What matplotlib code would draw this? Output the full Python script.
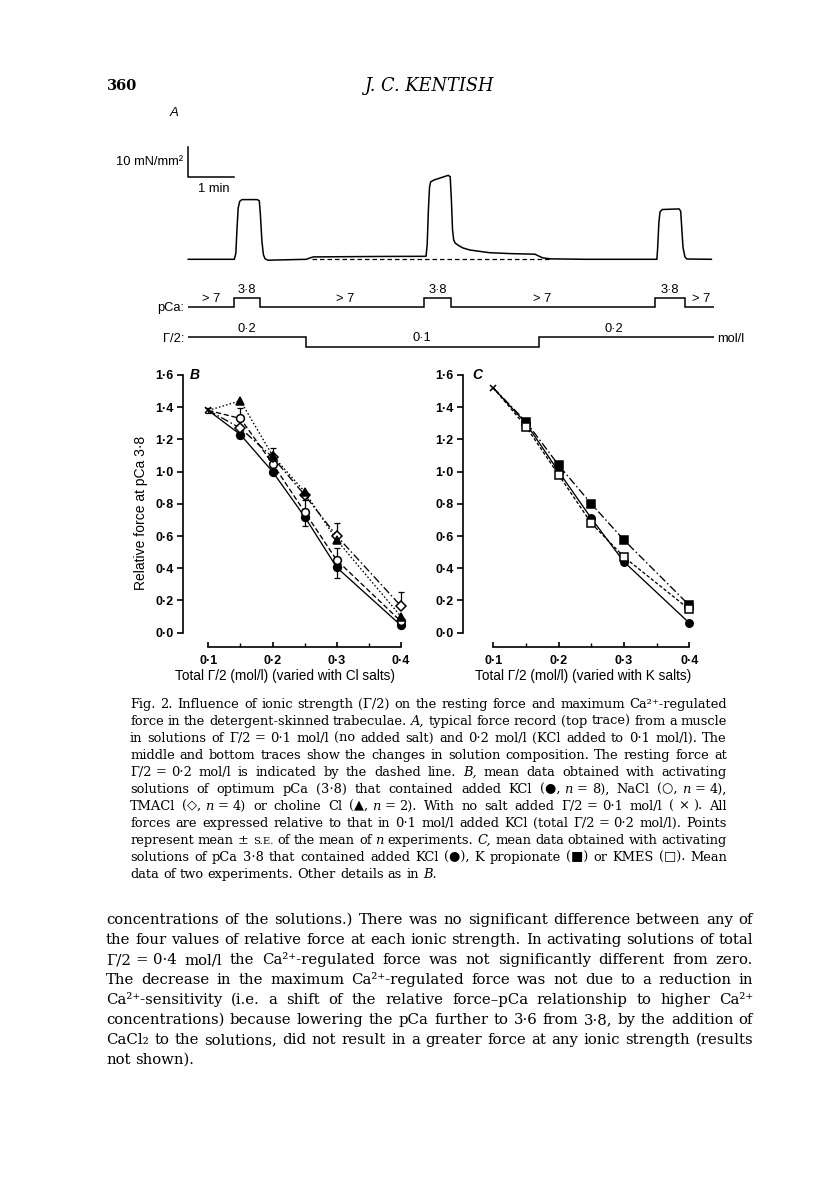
import matplotlib
matplotlib.use('Agg')
import statistics
import matplotlib.pyplot as plt
from matplotlib.transforms import IdentityTransform
from matplotlib.ticker import FixedLocator, FixedFormatter

W, H, DPI = 816, 1181, 100

# ---------------- data ----------------
# Panel A: force record (time in s, force in mN/mm2)
trace_t = [0, 60, 62, 63.5, 65, 67, 70, 90, 92.6, 94, 96, 98, 100, 104, 120, 154, 158, 163,
           250, 310, 311.5, 313, 314.5, 316, 320, 339, 341.5, 343, 344.5, 346, 348, 353, 358,
           367, 393, 420, 452, 456, 462, 472, 520, 611, 612, 613.5, 615, 618, 640, 642,
           643.5, 645, 647.5, 650, 682]
trace_f = [0, 0, 2, 10, 17, 19.3, 19.9, 19.9, 19.5, 15, 6, 1.5, 0.2, -0.3, -0.2, 0, 0.4, 0.8,
           0.95, 1.0, 5, 16, 24, 25.8, 26.4, 28.0, 27.5, 20, 10, 6.5, 5.4, 4.5, 3.8,
           3.1, 2.2, 1.9, 1.7, 1.2, 0.5, 0.15, 0.0, 0, 4, 12, 15.8, 16.6, 16.8, 16,
           10, 4, 0.8, 0.1, 0]
rest_t = [161, 472]
rest_f = [0, 0]
scale_force = 10      # mN/mm2
scale_time = 60       # s
pca_edges = [0, 60, 93.5, 307, 342.5, 608, 647, 685]
pca_vals = [7, 3.8, 7, 3.8, 7, 3.8, 7]
pca_labels = ["> 7", "3·8", "> 7", "3·8", "> 7", "3·8", "> 7"]
pca_label_t = [30, 76.5, 204, 325, 461, 627.5, 668]
ion_edges = [0, 153.5, 457, 685]
ion_vals = [0.2, 0.1, 0.2]
ion_labels = ["0·2", "0·1", "0·2"]
ion_label_t = [76.5, 304, 555]

# Panel B (Cl salts) and C (K salts)
gamma = [0.15, 0.2, 0.25, 0.3, 0.4]
B_nosalt, B_nosalt_err = 1.38, 0.015
B_KCl = [1.23, 1.00, 0.72, 0.405, 0.045]
B_KCl_lo = [0.02, 0, 0.02, 0.065, 0]
B_NaCl = [1.33, 1.05, 0.75, 0.45, 0.07]
B_NaCl_up = [0.065, 0, 0.075, 0.075, 0]
B_NaCl_lo = [0, 0, 0.09, 0, 0]
B_TMA = [1.27, 1.09, 0.855, 0.60, 0.165]
B_TMA_up = [0, 0.055, 0, 0.08, 0.09]
B_Cho = [1.44, 1.10, 0.875, 0.575, 0.10]

C_nosalt = 1.52
C_KCl = [1.30, 1.00, 0.71, 0.44, 0.06]
C_Kprop = [1.31, 1.04, 0.80, 0.575, 0.17]
C_KMES = [1.28, 0.98, 0.68, 0.47, 0.145]

y_ticks = [0.0, 0.2, 0.4, 0.6, 0.8, 1.0, 1.2, 1.4, 1.6]
y_ticklabels = ["0·0", "0·2", "0·4", "0·6", "0·8", "1·0", "1·2", "1·4", "1·6"]
x_ticks = [0.1, 0.2, 0.3, 0.4]
x_ticklabels = ["0·1", "0·2", "0·3", "0·4"]
x_minor = [0.15, 0.25, 0.35]

caption = [
    "Fig. 2. Influence of ionic strength (Γ/2) on the resting force and maximum Ca²⁺-regulated",
    "force in the detergent-skinned trabeculae. *A, typical force record (top trace) from a muscle",
    "in solutions of Γ/2~=~0·1 mol/l (no added salt) and 0·2 mol/l (KCl added to 0·1 mol/l). The",
    "middle and bottom traces show the changes in solution composition. The resting force at",
    "Γ/2~=~0·2 mol/l is indicated by the dashed line. *B, mean data obtained with activating",
    "solutions of optimum pCa (3·8) that contained added KCl (●,~*n~=~8), NaCl (○,~*n~=~4),",
    "TMACl (◇,~*n~=~4) or choline Cl (▲,~*n~=~2). With no salt added Γ/2~=~0·1 mol/l (~×~). All",
    "forces are expressed relative to that in 0·1 mol/l added KCl (total Γ/2~=~0·2 mol/l). Points",
    "represent mean~± ^S.E. of the mean of *n experiments. *C, mean data obtained with activating",
    "solutions of pCa 3·8 that contained added KCl (●), K propionate (■) or KMES (□). Mean",
    "data of two experiments. Other details as in *B.",
]
body = [
    "concentrations of the solutions.) There was no significant difference between any of",
    "the four values of relative force at each ionic strength. In activating solutions of total",
    "Γ/2~=~0·4 mol/l the Ca²⁺-regulated force was not significantly different from zero.",
    "The decrease in the maximum Ca²⁺-regulated force was not due to a reduction in",
    "Ca²⁺-sensitivity (i.e. a shift of the relative force–pCa relationship to higher Ca²⁺",
    "concentrations) because lowering the pCa further to 3·6 from 3·8, by the addition of",
    "CaCl₂ to the solutions, did not result in a greater force at any ionic strength (results",
    "not shown).",
]

# ---------------- figure ----------------
SANS = ['Liberation Sans', 'DejaVu Sans']
SERIF = ['DejaVu Serif', 'DejaVu Sans']
plt.rcParams['font.family'] = SANS

fig = plt.figure(figsize=(W / DPI, H / DPI), dpi=DPI)
fig.patch.set_facecolor('white')
renderer = fig.canvas.get_renderer()


def px_axes(x0, y0, x1, y1):
    return fig.add_axes([x0 / W, 1 - y1 / H, (x1 - x0) / W, (y1 - y0) / H])


def ptext(x, y, s, **kw):
    return fig.text(x, H - y, s, transform=IdentityTransform(), **kw)


def twidth(s, style, size):
    t = ptext(0, 0, s, fontsize=size, style=style, family=SERIF)
    w = t.get_window_extent(renderer).width
    t.remove()
    return w


def parse_word(word, size):
    subs = []
    for sub in word.split('~'):
        segs = []
        for s in sub.split('|'):
            style, sz = 'normal', size
            if s.startswith('*'):
                style, s = 'italic', s[1:]
            elif s.startswith('^'):
                sz, s = size * 0.78, s[1:]
            if s:
                segs.append((s, style, sz))
        subs.append(segs)
    return subs


def measure_line(line, size):
    space = twidth("a a", 'normal', size) - twidth("aa", 'normal', size)
    words = [parse_word(w, size) for w in line.split(' ')]
    widths = []
    for subs in words:
        wsum = 0
        for k, segs in enumerate(subs):
            if k > 0:
                wsum += space
            for s, st, sz in segs:
                wsum += twidth(s, st, sz)
        widths.append(wsum)
    return space, words, widths


def text_line(line, x0, x1, yc, size, justify=True):
    space, words, widths = measure_line(line, size)
    n = len(words)
    gap = (x1 - x0 - sum(widths)) / (n - 1) if (justify and n > 1) else space
    base = yc + 0.27 * size * DPI / 72
    x = x0
    for subs, wd in zip(words, widths):
        xx = x
        for k, segs in enumerate(subs):
            if k > 0:
                xx += space
            for s, st, sz in segs:
                ptext(xx, base, s, fontsize=sz, style=st, family=SERIF, va='baseline', ha='left')
                xx += twidth(s, st, sz)
        x += wd + gap


def fit_size(lines, width, s0=9.0):
    ratios = []
    for line in lines:
        space, words, widths = measure_line(line, s0)
        natural = sum(widths) + space * (len(words) - 1)
        ratios.append(width / natural)
    return s0 * statistics.median(ratios) * 0.985


# ---- header ----
ptext(107, 86, "360", fontsize=10.5, family=SERIF, weight='bold', va='center', ha='left')
ptext(430, 86, "J. C. KENTISH", fontsize=12.8, family=SERIF, style='italic', va='center', ha='center')
ptext(174, 113, "A", fontsize=9.5, style='italic', va='center', ha='center')

# ---- panel A ----
T_LEFT, T_RIGHT = -115.1, 745.4
TXT_A = 9.3
axA = px_axes(100, 140, 760, 275)
axA.set_xlim(T_LEFT, T_RIGHT)
axA.set_ylim(-5.23, 39.77)
axA.axis('off')
axA.plot(trace_t, trace_f, color='k', lw=1.1, solid_joinstyle='round')
axA.plot(rest_t, rest_f, color='k', lw=0.9, dashes=(3.6, 2.4))
sb_bot = 27.4
axA.plot([0, 0, scale_time], [sb_bot + scale_force, sb_bot, sb_bot], color='k', lw=1.1)
axA.text(-7.0, sb_bot + scale_force / 2, "10 mN/mm²", fontsize=TXT_A, ha='right', va='center')
axA.text(scale_time / 2 + 3.5, sb_bot - 4.0, "1 min", fontsize=TXT_A, ha='center', va='center')

axP = px_axes(100, 280, 760, 315)
axP.set_xlim(T_LEFT, T_RIGHT)
axP.set_ylim(9.95, -2.49)
axP.axis('off')
axP.stairs(pca_vals, pca_edges, baseline=None, color='k', lw=1.1)
for s, t, v in zip(pca_labels, pca_label_t, pca_vals):
    axP.annotate(s, (t, v), xytext=(0, 1.5), textcoords='offset points', ha='center',
                 va='bottom', fontsize=TXT_A)
axP.text(-5, 7, "pCa:", fontsize=TXT_A, ha='right', va='center_baseline')

axG = px_axes(100, 318, 760, 355)
axG.set_xlim(T_LEFT, T_RIGHT)
axG.set_ylim(0.0117, 0.405)
axG.axis('off')
axG.stairs(ion_vals, ion_edges, baseline=None, color='k', lw=1.1)
for s, t, v in zip(ion_labels, ion_label_t, ion_vals):
    axG.annotate(s, (t, v), xytext=(0, 1.8), textcoords='offset points', ha='center',
                 va='bottom', fontsize=TXT_A)
axG.text(-5, 0.2, "Γ/2:", fontsize=TXT_A, ha='right', va='center_baseline')
axG.text(689, 0.2, "mol/l", fontsize=TXT_A, ha='left', va='center_baseline')


# ---- panels B and C ----
def style_axes(ax, spine_x, spine_y):
    for s in ('top', 'right'):
        ax.spines[s].set_visible(False)
    ax.spines['left'].set_position(('data', spine_x))
    ax.spines['left'].set_bounds(0, 1.6)
    ax.spines['bottom'].set_position(('data', spine_y))
    ax.spines['bottom'].set_bounds(0.1, 0.4)
    for s in ('left', 'bottom'):
        ax.spines[s].set_linewidth(1.2)
    ax.yaxis.set_major_locator(FixedLocator(y_ticks))
    ax.yaxis.set_major_formatter(FixedFormatter(y_ticklabels))
    ax.xaxis.set_major_locator(FixedLocator(x_ticks))
    ax.xaxis.set_major_formatter(FixedFormatter(x_ticklabels))
    ax.xaxis.set_minor_locator(FixedLocator(x_minor))
    ax.tick_params(axis='y', direction='out', length=4.6, width=1.2, pad=2.0, labelsize=9)
    ax.tick_params(axis='x', which='major', direction='in', length=3.4, width=1.2, pad=6.0,
                   labelsize=9)
    ax.tick_params(axis='x', which='minor', direction='in', length=2.6, width=1.0)
    for lab in ax.get_xticklabels() + ax.get_yticklabels():
        lab.set_fontweight('bold')
    ax.patch.set_alpha(0)


LW = 0.95
MS = 5.6
EKW = dict(fmt='none', ecolor='k', elinewidth=0.9, capsize=2.0, capthick=0.9)
axB = px_axes(150, 365, 415, 660)
axB.set_xlim(0.00923, 0.4218)
axB.set_ylim(-0.1695, 1.662)
style_axes(axB, 0.0601, -0.0888)
x0 = 0.1
series_B = [
    (B_KCl, 'o', 'k', None),
    (B_NaCl, 'o', 'w', (4.0, 2.0)),
    (B_TMA, 'D', 'w', (6.0, 2.0, 1.2, 2.0)),
    (B_Cho, '^', 'k', (1.2, 1.6)),
]
for vals, mk, fc, dash in series_B:
    ln, = axB.plot([x0] + gamma, [B_nosalt] + vals, color='k', lw=LW)
    if dash is not None:
        ln.set_dashes(dash)
axB.errorbar(gamma, B_KCl, yerr=[B_KCl_lo, [0] * 5], **EKW)
axB.errorbar(gamma, B_NaCl, yerr=[B_NaCl_lo, B_NaCl_up], **EKW)
axB.errorbar(gamma, B_TMA, yerr=[[0] * 5, B_TMA_up], **EKW)
axB.errorbar([x0], [B_nosalt], yerr=[[B_nosalt_err], [B_nosalt_err]], **EKW)
for vals, mk, fc, dash in series_B:
    ms = MS * 0.85 if mk == 'D' else (MS * 1.1 if mk == '^' else MS)
    axB.plot(gamma, vals, ls='none', marker=mk, ms=ms, mfc=fc, mec='k', mew=1.1, zorder=4)
axB.plot([x0], [B_nosalt], ls='none', marker='x', ms=3.8, mec='k', mew=1.1, zorder=4)
axB.set_ylabel("Relative force at pCa 3·8", fontsize=10, labelpad=5)
axB.text(0.0793, 1.6, "B", fontsize=10, style='italic', weight='bold', ha='center', va='center')
ptext(285, 676, "Total Γ/2 (mol/l) (varied with Cl salts)", fontsize=9.8, ha='center', va='center')

axC = px_axes(440, 365, 705, 660)
axC.set_xlim(0.0184, 0.424)
axC.set_ylim(-0.1695, 1.662)
style_axes(axC, 0.0532, -0.0888)
series_C = [
    (C_KCl, 'o', 'k', None),
    (C_Kprop, 's', 'k', (6.0, 2.0, 1.2, 2.0)),
    (C_KMES, 's', 'w', (2.5, 1.6)),
]
for vals, mk, fc, dash in series_C:
    ln, = axC.plot([x0] + gamma, [C_nosalt] + vals, color='k', lw=LW)
    if dash is not None:
        ln.set_dashes(dash)
for vals, mk, fc, dash in series_C:
    axC.plot(gamma, vals, ls='none', marker=mk, ms=MS * 0.95, mfc=fc, mec='k', mew=1.1, zorder=4)
axC.plot([x0], [C_nosalt], ls='none', marker='x', ms=3.8, mec='k', mew=1.1, zorder=4)
axC.text(0.075, 1.6, "C", fontsize=10, style='italic', weight='bold', ha='center', va='center')
ptext(583, 676, "Total Γ/2 (mol/l) (varied with K salts)", fontsize=9.8, ha='center', va='center')

# ---- caption and body text ----
CAP_X0, CAP_X1, CAP_Y0, CAP_DY = 130, 727, 704, 17.0
cap_size = fit_size(caption[:-1], CAP_X1 - CAP_X0)
for i, line in enumerate(caption):
    text_line(line, CAP_X0, CAP_X1, CAP_Y0 + i * CAP_DY, cap_size, justify=(i < len(caption) - 1))
BODY_X0, BODY_X1, BODY_Y0, BODY_DY = 106, 753, 920, 20.0
body_size = fit_size(body[:-1], BODY_X1 - BODY_X0)
for i, line in enumerate(body):
    text_line(line, BODY_X0, BODY_X1, BODY_Y0 + i * BODY_DY, body_size, justify=(i < len(body) - 1))

fig.savefig("out.png", dpi=DPI, facecolor='white')
